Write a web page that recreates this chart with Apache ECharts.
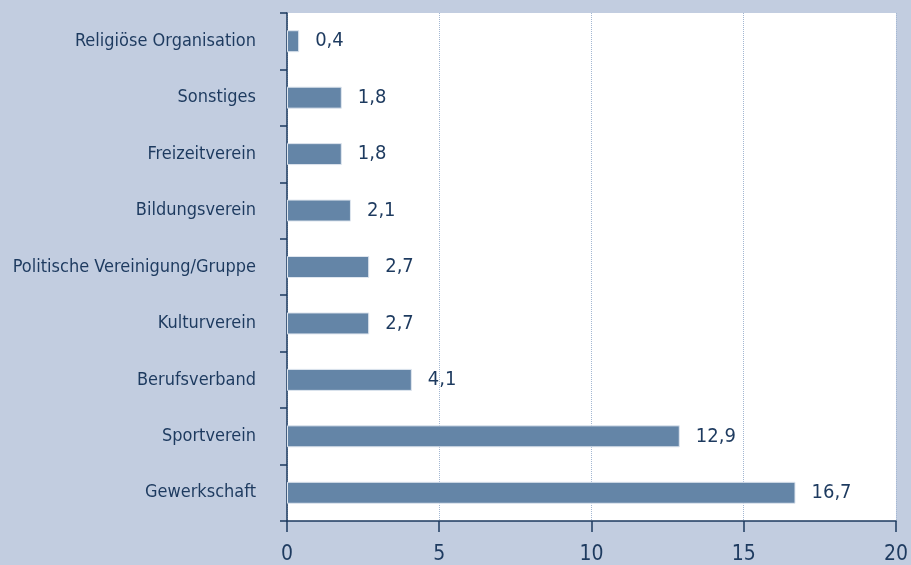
<!DOCTYPE html>
<html>
<head>
<meta charset="utf-8">
<script src="https://cdn.jsdelivr.net/npm/echarts@6/dist/echarts.min.js"></script>
<style>
  html, body { margin: 0; padding: 0; background: #c2cde0; }
  #chart { width: 911px; height: 565px; }
</style>
</head>
<body>
<div id="chart"></div>
<script>
// categories listed bottom to top (ECharts category y axis starts at the bottom)
const categories = [
  'Gewerkschaft',
  'Sportverein',
  'Berufsverband',
  'Kulturverein',
  'Politische Vereinigung/Gruppe',
  'Bildungsverein',
  'Freizeitverein',
  'Sonstiges',
  'Religiöse Organisation'
];
const values = [16.7, 12.9, 4.1, 2.7, 2.7, 2.1, 1.8, 1.8, 0.4];
const xTicks = [0, 5, 10, 15, 20];

const textColor = '#1d3a5f';
const font = '"Liberation Sans Narrow", "DejaVu Sans Condensed", sans-serif';

const myChart = echarts.init(document.getElementById('chart'));

const option = {
  backgroundColor: '#c2cde0',
  animation: false,
  grid: {
    left: 287,
    right: 14,
    top: 13,
    bottom: 42,
    show: true,
    backgroundColor: '#ffffff',
    borderWidth: 0
  },
  xAxis: {
    type: 'value',
    min: xTicks[0],
    max: xTicks[xTicks.length - 1],
    interval: 5,
    axisLine: { show: true, lineStyle: { color: '#1d3a5f', width: 1.5 } },
    axisTick: { show: true, length: 11, lineStyle: { color: '#1d3a5f', width: 1.5 } },
    axisLabel: {
      color: textColor,
      fontFamily: font,
      fontSize: 21,
      margin: 23,
      formatter: (v) => String(v)
    },
    splitLine: {
      show: true,
      lineStyle: { color: '#a3b7d2', type: 'dotted', width: 1 }
    }
  },
  yAxis: {
    type: 'category',
    data: categories,
    axisLine: { show: true, lineStyle: { color: '#1d3a5f', width: 1.5 } },
    axisTick: { show: true, length: 7, lineStyle: { color: '#1d3a5f', width: 1.5 } },
    axisLabel: {
      color: textColor,
      fontFamily: font,
      fontSize: 18,
      margin: 31
    },
    splitLine: { show: false }
  },
  series: [
    {
      type: 'bar',
      data: values,
      barWidth: 22,
      itemStyle: {
        color: '#6485a7',
        borderColor: '#dfe6ef',
        borderWidth: 1
      },
      label: {
        show: true,
        position: 'right',
        distance: 16,
        color: textColor,
        fontFamily: font,
        fontSize: 20,
        formatter: (p) => String(p.value).replace('.', ',')
      }
    }
  ]
};

myChart.setOption(option);
window.addEventListener('resize', myChart.resize);
</script>
</body>
</html>
